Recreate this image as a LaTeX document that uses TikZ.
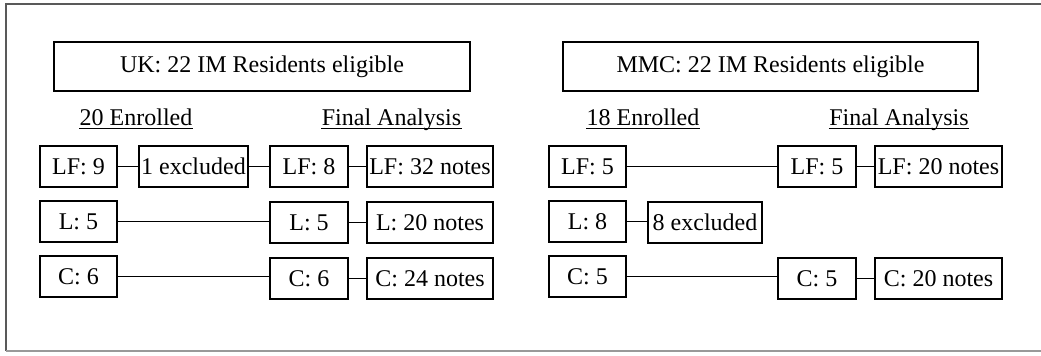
\documentclass[tikz,border=0pt]{standalone}
\usepackage{fontspec}
\setmainfont{Liberation Serif}
\begin{document}
\begin{tikzpicture}[x=0.5pt,y=-0.5pt,
  bx/.style={draw, line width=1.1pt, inner sep=0pt, minimum height=20.5pt, minimum width=38.75pt, font=\fontsize{12}{14}\selectfont},
  hd/.style={draw, line width=1.1pt, inner sep=0pt, minimum height=24.5pt, font=\fontsize{12}{14}\selectfont},
  lbl/.style={anchor=base, inner sep=0pt, font=\fontsize{12}{14}\selectfont},
  ul/.style={line width=0.6pt},
  cn/.style={line width=0.7pt},
  frame/.style={line width=0.7pt, draw=black!65}]
\useasboundingbox (0,0) rectangle (1041,356);
% frame
\coordinate (ftr) at (1041,4);
\coordinate (ftl) at (6,4);
\coordinate (fbl) at (6,351);
\coordinate (fbr) at (1041,351);
\draw[frame] (ftr) -- (ftl) -- (fbl);
\draw[frame, draw=black!40] (fbl) -- (fbr);
% UK
\node[hd, minimum width=208pt] (uk) at (262,66.5) {UK: 22 IM Residents eligible};
\node[lbl] (ukenr) at (136,126) {20 Enrolled};
\node[lbl] (ukfin) at (391.5,126) {Final Analysis};
\draw[ul] ([yshift=-1.2pt]ukenr.base west) -- ([yshift=-1.2pt]ukenr.base east);
\draw[ul] ([yshift=-1.2pt]ukfin.base west) -- ([yshift=-1.2pt]ukfin.base east);
\node[bx] (uklf) at (78.5,166.5) {LF: 9};
\node[bx, minimum width=54.5pt] (ukex) at (193.5,166.5) {1 excluded};
\node[bx] (uklf2) at (309,166.5) {LF: 8};
\node[bx, minimum width=63pt] (uklfn) at (430,166.5) {LF: 32 notes};
\node[bx] (ukl) at (78.5,221.5) {L: 5};
\node[bx] (ukl2) at (309,222.7) {L: 5};
\node[bx, minimum width=63pt] (ukln) at (430,222.7) {L: 20 notes};
\node[bx] (ukc) at (78.5,276.8) {C: 6};
\node[bx] (ukc2) at (309,278.3) {C: 6};
\node[bx, minimum width=63pt] (ukcn) at (430,278.3) {C: 24 notes};
\draw[cn] (uklf) -- (ukex);
\draw[cn] (ukex) -- (uklf2);
\draw[cn] (uklf2) -- (uklfn);
\draw[cn] (ukl.east) -- (ukl.east -| ukl2.west);
\draw[cn] (ukl2) -- (ukln);
\draw[cn] (ukc.east) -- (ukc.east -| ukc2.west);
\draw[cn] (ukc2) -- (ukcn);
% MMC
\node[hd, minimum width=207.5pt] (mmc) at (770.5,66.5) {MMC: 22 IM Residents eligible};
\node[lbl] (mmcenr) at (643,126) {18 Enrolled};
\node[lbl] (mmcfin) at (899,126) {Final Analysis};
\draw[ul] ([yshift=-1.2pt]mmcenr.base west) -- ([yshift=-1.2pt]mmcenr.base east);
\draw[ul] ([yshift=-1.2pt]mmcfin.base west) -- ([yshift=-1.2pt]mmcfin.base east);
\node[bx] (mlf) at (587.5,166.5) {LF: 5};
\node[bx] (mlf2) at (817,166.5) {LF: 5};
\node[bx, minimum width=63.5pt] (mlfn) at (938.5,166.5) {LF: 20 notes};
\node[bx] (ml) at (587.5,221.5) {L: 8};
\node[bx, minimum width=57pt] (mex) at (705,222.2) {8 excluded};
\node[bx] (mc) at (587.5,276.8) {C: 5};
\node[bx] (mc2) at (817,278.3) {C: 5};
\node[bx, minimum width=63.5pt] (mcn) at (938.5,278.3) {C: 20 notes};
\draw[cn] (mlf) -- (mlf2);
\draw[cn] (mlf2) -- (mlfn);
\draw[cn] (ml.east) -- (ml.east -| mex.west);
\draw[cn] (mc.east) -- (mc.east -| mc2.west);
\draw[cn] (mc2) -- (mcn);
\end{tikzpicture}
\end{document}
